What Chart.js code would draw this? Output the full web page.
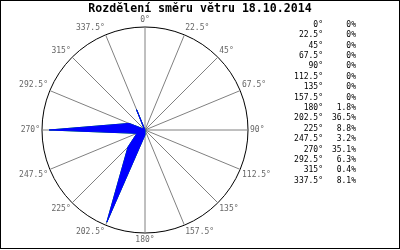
<!DOCTYPE html>
<html><head><meta charset="utf-8">
<script src="https://cdn.jsdelivr.net/npm/chart.js@4/dist/chart.umd.min.js"></script>
<style>html,body{margin:0;padding:0;background:#fff}#wrap{width:400px;height:250px;position:relative}</style>
</head><body><div id="wrap"><canvas id="c" width="400" height="250"></canvas></div>
<script>
const chartTitle = 'Rozdělení směru větru 18.10.2014';
const directionLabels = ['0°','22.5°','45°','67.5°','90°','112.5°','135°','157.5°','180°','202.5°','225°','247.5°','270°','292.5°','315°','337.5°'];
const percentages = [0,0,0,0,0,0,0,0,1.8,36.5,8.8,3.2,35.1,6.3,0.4,8.1];
const percentLabels = ['0%','0%','0%','0%','0%','0%','0%','0%','1.8%','36.5%','8.8%','3.2%','35.1%','6.3%','0.4%','8.1%'];
const scaleMax = 37.7;

const extras = {
  id: 'extras',
  afterDraw(chart) {
    const ctx = chart.ctx;
    ctx.save();
    ctx.strokeStyle = '#000';
    ctx.lineWidth = 1;
    ctx.strokeRect(0.5, 0.5, 399, 248);
    ctx.fillStyle = '#000';
    ctx.textBaseline = 'middle';
    ctx.textAlign = 'center';
    ctx.font = 'bold 11.6px "DejaVu Sans Mono"';
    ctx.fillText(chartTitle, 200, 9);
    ctx.font = '8px "DejaVu Sans Mono"';
    ctx.textAlign = 'right';
    directionLabels.forEach((lab, i) => {
      const y = 24.7 + 10.4 * i;
      ctx.fillText(lab, 323, y);
      ctx.fillText(percentLabels[i], 356, y);
    });
    ctx.restore();
  }
};

new Chart(document.getElementById('c'), {
  type: 'radar',
  data: {
    labels: directionLabels,
    datasets: [
      { data: percentages, fill: false, borderColor: '#00d000', borderWidth: 1, pointRadius: 0, order: 2 },
      { data: percentages, fill: true, backgroundColor: '#0000ff', borderColor: '#0000ff', borderWidth: 1, pointRadius: 0, order: 1 }
    ]
  },
  options: {
    responsive: false,
    animation: false,
    devicePixelRatio: 1,
    layout: { padding: { left: 0, right: 110, top: 15, bottom: 5 } },
    plugins: { legend: { display: false }, title: { display: false }, tooltip: { enabled: false } },
    elements: { line: { tension: 0 } },
    scales: {
      r: {
        min: 0,
        max: scaleMax,
        afterBuildTicks(scale) { scale.ticks = [{ value: 0 }, { value: scaleMax }]; },
        ticks: { display: false },
        grid: { circular: true, color: '#000', lineWidth: 1 },
        angleLines: { color: '#808080', lineWidth: 1 },
        pointLabels: { color: '#666', padding: 2, font: { family: 'DejaVu Sans Mono', size: 8, lineHeight: 1.25 } }
      }
    }
  },
  plugins: [extras]
});
</script></body></html>
